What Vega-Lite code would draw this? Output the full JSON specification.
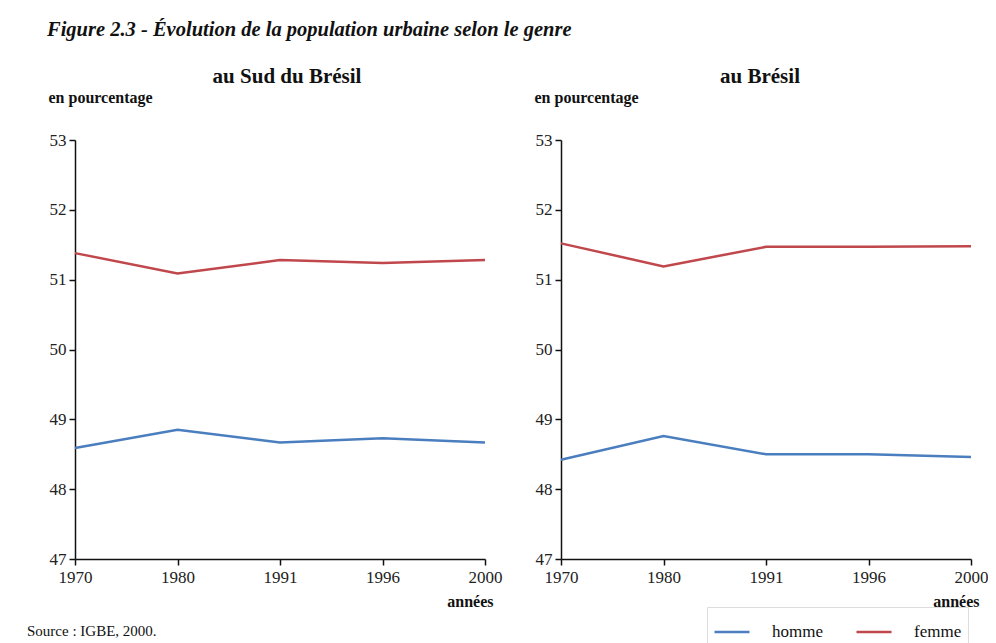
{
  "$schema": "https://vega.github.io/schema/vega-lite/v6.json",
  "background": "white",
  "padding": {"left": 27, "top": 19, "right": 0, "bottom": 0},
  "config": {
    "font": "Liberation Serif",
    "view": {"stroke": null},
    "axis": {
      "labelFont": "Liberation Serif",
      "labelFontSize": 17,
      "labelColor": "#222",
      "domainColor": "#111",
      "tickColor": "#111",
      "domainWidth": 1.5,
      "tickWidth": 1.5,
      "tickSize": 6,
      "grid": false,
      "titleFont": "Liberation Serif",
      "titleFontSize": 16,
      "titleFontWeight": "bold",
      "titleColor": "#111"
    }
  },
  "title": {
    "text": "Figure 2.3 - Évolution de la population urbaine selon le genre",
    "anchor": "start",
    "fontStyle": "italic",
    "fontWeight": "bold",
    "fontSize": 20.5,
    "color": "#111",
    "dx": 20,
    "offset": 26
  },
  "datasets": {
    "pop": [
      {"region": "sud", "annee": "1970", "genre": "femme", "pct": 51.38},
      {"region": "sud", "annee": "1980", "genre": "femme", "pct": 51.09},
      {"region": "sud", "annee": "1991", "genre": "femme", "pct": 51.28},
      {"region": "sud", "annee": "1996", "genre": "femme", "pct": 51.24},
      {"region": "sud", "annee": "2000", "genre": "femme", "pct": 51.28},
      {"region": "sud", "annee": "1970", "genre": "homme", "pct": 48.59},
      {"region": "sud", "annee": "1980", "genre": "homme", "pct": 48.85},
      {"region": "sud", "annee": "1991", "genre": "homme", "pct": 48.67},
      {"region": "sud", "annee": "1996", "genre": "homme", "pct": 48.73},
      {"region": "sud", "annee": "2000", "genre": "homme", "pct": 48.67},
      {"region": "bresil", "annee": "1970", "genre": "femme", "pct": 51.52},
      {"region": "bresil", "annee": "1980", "genre": "femme", "pct": 51.19},
      {"region": "bresil", "annee": "1991", "genre": "femme", "pct": 51.47},
      {"region": "bresil", "annee": "1996", "genre": "femme", "pct": 51.47},
      {"region": "bresil", "annee": "2000", "genre": "femme", "pct": 51.48},
      {"region": "bresil", "annee": "1970", "genre": "homme", "pct": 48.42},
      {"region": "bresil", "annee": "1980", "genre": "homme", "pct": 48.76},
      {"region": "bresil", "annee": "1991", "genre": "homme", "pct": 48.50},
      {"region": "bresil", "annee": "1996", "genre": "homme", "pct": 48.50},
      {"region": "bresil", "annee": "2000", "genre": "homme", "pct": 48.46}
    ]
  },
  "vconcat": [
    {
      "title": {
        "text": "Source : IGBE, 2000.",
        "orient": "bottom",
        "anchor": "start",
        "fontSize": 15,
        "fontWeight": "normal",
        "color": "#111",
        "dx": -21,
        "offset": 15
      },
      "spacing": 32,
      "hconcat": [
        {
          "width": 410,
          "height": 419,
          "title": {"text": "au Sud du Brésil", "fontSize": 21, "fontWeight": "bold", "color": "#111", "offset": 2, "dx": 7},
          "data": {"name": "pop"},
          "transform": [{"filter": "datum.region === 'sud'"}],
          "mark": {"type": "line", "strokeWidth": 2.5},
          "encoding": {
            "x": {
              "field": "annee", "type": "ordinal", "scale": {"type": "point", "padding": 0},
              "axis": {"labelAngle": 0, "title": "années", "titleX": 418, "titleAlign": "right", "titleY": 47, "titleBaseline": "alphabetic", "labelPadding": 4}
            },
            "y": {
              "field": "pct", "type": "quantitative", "scale": {"domain": [47, 53], "nice": false, "zero": false},
              "axis": {"values": [47, 48, 49, 50, 51, 52, 53], "title": "en pourcentage", "titleAngle": 0, "titleX": -27, "titleY": -38, "titleAlign": "left", "titleBaseline": "alphabetic", "labelPadding": 3}
            },
            "color": {
              "field": "genre", "type": "nominal",
              "scale": {"domain": ["homme", "femme"], "range": ["#4a7ebf", "#c0474b"]},
              "legend": {
                "orient": "none", "legendX": 632, "legendY": 467, "direction": "horizontal", "title": null,
                "symbolType": "stroke", "symbolStrokeWidth": 2.5, "symbolSize": 1225,
                "labelFont": "Liberation Serif", "labelFontSize": 17, "labelColor": "#111",
                "columnPadding": 28, "labelOffset": 21,
                "strokeColor": "#ddd", "padding": 6, "fillColor": "white"
              }
            }
          }
        },
        {
          "width": 410,
          "height": 419,
          "title": {"text": "au Brésil", "fontSize": 21, "fontWeight": "bold", "color": "#111", "offset": 2, "dx": -6},
          "data": {"name": "pop"},
          "transform": [{"filter": "datum.region === 'bresil'"}],
          "mark": {"type": "line", "strokeWidth": 2.5},
          "encoding": {
            "x": {
              "field": "annee", "type": "ordinal", "scale": {"type": "point", "padding": 0},
              "axis": {"labelAngle": 0, "title": "années", "titleX": 418, "titleAlign": "right", "titleY": 47, "titleBaseline": "alphabetic", "labelPadding": 4}
            },
            "y": {
              "field": "pct", "type": "quantitative", "scale": {"domain": [47, 53], "nice": false, "zero": false},
              "axis": {"values": [47, 48, 49, 50, 51, 52, 53], "title": "en pourcentage", "titleAngle": 0, "titleX": -27, "titleY": -38, "titleAlign": "left", "titleBaseline": "alphabetic", "labelPadding": 3}
            },
            "color": {
              "field": "genre", "type": "nominal",
              "scale": {"domain": ["homme", "femme"], "range": ["#4a7ebf", "#c0474b"]}
            }
          }
        }
      ]
    }
  ]
}
